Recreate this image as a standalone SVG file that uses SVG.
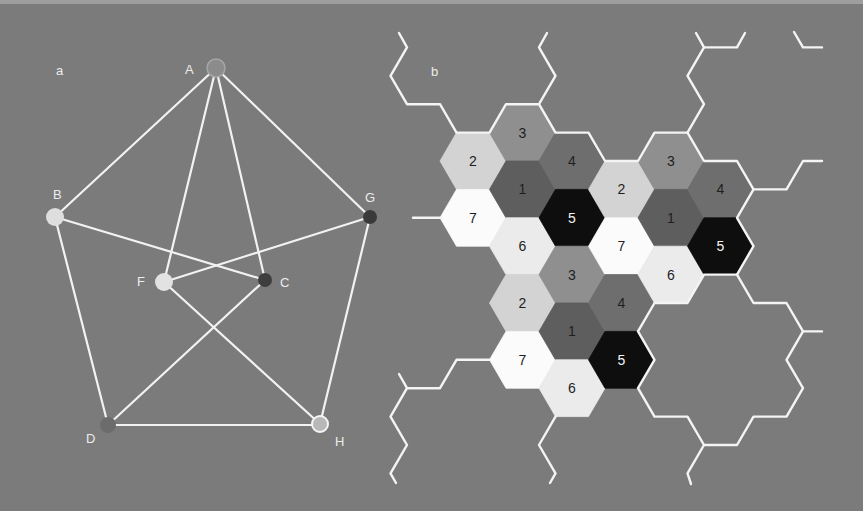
<svg xmlns="http://www.w3.org/2000/svg" xmlns:xlink="http://www.w3.org/1999/xlink" width="863" height="511" viewBox="0 0 863 511">
<defs>
<polygon id="hx" points="-33,0 -16.5,-28.4 16.5,-28.4 33,0 16.5,28.4 -16.5,28.4"/>
<style>
.edge{stroke:#f2f2f2;stroke-width:2.2;fill:none;stroke-linecap:round}
.wl{stroke:#f4f4f4;stroke-width:2.4;fill:none;stroke-linejoin:round;stroke-linecap:round}
.lbl{font-family:"Liberation Sans",Arial,sans-serif;font-size:13px;fill:#ececec}
.num{font-family:"Liberation Sans",Arial,sans-serif;font-size:14px;text-anchor:middle;fill:#1e1e1e}
.num.w{fill:#f4f4f4}
.h1{fill:#5e5e5e;stroke:#5e5e5e;stroke-width:0.8}
.h2{fill:#d3d3d3;stroke:#d3d3d3;stroke-width:0.8}
.h3{fill:#8f8f8f;stroke:#8f8f8f;stroke-width:0.8}
.h4{fill:#6e6e6e;stroke:#6e6e6e;stroke-width:0.8}
.h5{fill:#0e0e0e;stroke:#0e0e0e;stroke-width:0.8}
.h6{fill:#ebebeb;stroke:#ebebeb;stroke-width:0.8}
.h7{fill:#fbfbfb;stroke:#fbfbfb;stroke-width:0.8}
</style>
</defs>
<rect x="0" y="0" width="863" height="511" fill="#7b7b7b"/>
<rect x="0" y="0" width="863" height="4" fill="#9e9e9e"/>

<!-- panel a: graph -->
<text class="lbl" x="56" y="75">a</text>
<g id="edges">
<line class="edge" x1="216" y1="68" x2="55" y2="217"/>
<line class="edge" x1="216" y1="68" x2="370" y2="217"/>
<line class="edge" x1="216" y1="68" x2="164" y2="282"/>
<line class="edge" x1="216" y1="68" x2="265" y2="280"/>
<line class="edge" x1="55" y1="217" x2="265" y2="280"/>
<line class="edge" x1="370" y1="217" x2="164" y2="282"/>
<line class="edge" x1="55" y1="217" x2="108" y2="425"/>
<line class="edge" x1="370" y1="217" x2="320" y2="424"/>
<line class="edge" x1="265" y1="280" x2="108" y2="425"/>
<line class="edge" x1="164" y1="282" x2="320" y2="424"/>
<line class="edge" x1="108" y1="425" x2="320" y2="425"/>
</g>
<g id="nodeA"><circle cx="216" cy="68" r="9" fill="#8c8c8c" stroke="#a6a6a6" stroke-width="1.5"/><text class="lbl" x="185" y="74">A</text></g>
<g id="nodeB"><circle cx="55" cy="217" r="9" fill="#dedede"/><text class="lbl" x="53" y="199">B</text></g>
<g id="nodeG"><circle cx="370" cy="217" r="7" fill="#3a3a3a"/><text class="lbl" x="365" y="202">G</text></g>
<g id="nodeF"><circle cx="164" cy="282" r="9" fill="#e2e2e2"/><text class="lbl" x="137" y="286">F</text></g>
<g id="nodeC"><circle cx="265" cy="280" r="7" fill="#3e3e3e"/><text class="lbl" x="280" y="287">C</text></g>
<g id="nodeD"><circle cx="108" cy="425" r="8" fill="#6c6c6c"/><text class="lbl" x="86" y="443">D</text></g>
<g id="nodeH"><circle cx="320" cy="424" r="8" fill="#b8b8b8" stroke="#f5f5f5" stroke-width="2"/><text class="lbl" x="335" y="446">H</text></g>

<!-- panel b: hexagons -->
<text class="lbl" x="431" y="76">b</text>
<g id="hexes">
<g id="hex-0-1"><use xlink:href="#hx" href="#hx" x="473" y="161" class="h2"/><text class="num" x="473" y="166">2</text></g>
<g id="hex-0-3"><use xlink:href="#hx" href="#hx" x="473" y="217.8" class="h7"/><text class="num" x="473" y="222.8">7</text></g>
<g id="hex-1-0"><use xlink:href="#hx" href="#hx" x="522.5" y="132.6" class="h3"/><text class="num" x="522.5" y="137.6">3</text></g>
<g id="hex-1-2"><use xlink:href="#hx" href="#hx" x="522.5" y="189.4" class="h1"/><text class="num" x="522.5" y="194.4">1</text></g>
<g id="hex-1-4"><use xlink:href="#hx" href="#hx" x="522.5" y="246.2" class="h6"/><text class="num" x="522.5" y="251.2">6</text></g>
<g id="hex-1-6"><use xlink:href="#hx" href="#hx" x="522.5" y="303" class="h2"/><text class="num" x="522.5" y="308">2</text></g>
<g id="hex-1-8"><use xlink:href="#hx" href="#hx" x="522.5" y="359.8" class="h7"/><text class="num" x="522.5" y="364.8">7</text></g>
<g id="hex-2-1"><use xlink:href="#hx" href="#hx" x="572" y="161" class="h4"/><text class="num" x="572" y="166">4</text></g>
<g id="hex-2-3"><use xlink:href="#hx" href="#hx" x="572" y="217.8" class="h5"/><text class="num w" x="572" y="222.8">5</text></g>
<g id="hex-2-5"><use xlink:href="#hx" href="#hx" x="572" y="274.6" class="h3"/><text class="num" x="572" y="279.6">3</text></g>
<g id="hex-2-7"><use xlink:href="#hx" href="#hx" x="572" y="331.4" class="h1"/><text class="num" x="572" y="336.4">1</text></g>
<g id="hex-2-9"><use xlink:href="#hx" href="#hx" x="572" y="388.2" class="h6"/><text class="num" x="572" y="393.2">6</text></g>
<g id="hex-3-2"><use xlink:href="#hx" href="#hx" x="621.5" y="189.4" class="h2"/><text class="num" x="621.5" y="194.4">2</text></g>
<g id="hex-3-4"><use xlink:href="#hx" href="#hx" x="621.5" y="246.2" class="h7"/><text class="num" x="621.5" y="251.2">7</text></g>
<g id="hex-3-6"><use xlink:href="#hx" href="#hx" x="621.5" y="303" class="h4"/><text class="num" x="621.5" y="308">4</text></g>
<g id="hex-3-8"><use xlink:href="#hx" href="#hx" x="621.5" y="359.8" class="h5"/><text class="num w" x="621.5" y="364.8">5</text></g>
<g id="hex-4-1"><use xlink:href="#hx" href="#hx" x="671" y="161" class="h3"/><text class="num" x="671" y="166">3</text></g>
<g id="hex-4-3"><use xlink:href="#hx" href="#hx" x="671" y="217.8" class="h1"/><text class="num" x="671" y="222.8">1</text></g>
<g id="hex-4-5"><use xlink:href="#hx" href="#hx" x="671" y="274.6" class="h6"/><text class="num" x="671" y="279.6">6</text></g>
<g id="hex-5-2"><use xlink:href="#hx" href="#hx" x="720.5" y="189.4" class="h4"/><text class="num" x="720.5" y="194.4">4</text></g>
<g id="hex-5-4"><use xlink:href="#hx" href="#hx" x="720.5" y="246.2" class="h5"/><text class="num w" x="720.5" y="251.2">5</text></g>
</g>
<g id="boundaries">
<polyline class="wl" points="399,33 407,47.4 390.5,75.8 407,104.2 440,104.2 456.5,132.6 489.5,132.6 506,104.2 539,104.2 555.5,75.8 539,47.4 547,33"/>
<polyline class="wl" points="539,104.2 555.5,132.6 588.5,132.6 605,161 638,161 654.5,132.6 687.5,132.6 704,104.2 687.5,75.8 704,47.4 696,33"/>
<polyline class="wl" points="704,47.4 737,47.4 745,33"/>
<polyline class="wl" points="794,32 803,47.4 822,47.4"/>
<polyline class="wl" points="687.5,132.6 704,161 737,161 753.5,189.4 786.5,189.4 803,161 822,161"/>
<polyline class="wl" points="753.5,189.4 737,217.8 753.5,246.2 737,274.6 704,274.6 687.5,303 654.5,303 638,331.4 654.5,359.8 638,388.2 654.5,416.6 687.5,416.6 704,445 737,445 753.5,416.6 786.5,416.6 803,388.2 786.5,359.8 803,331.4 822,331.4"/>
<polyline class="wl" points="737,274.6 753.5,303 786.5,303 803,331.4"/>
<polyline class="wl" points="704,445 687.5,473.4 691,484"/>
<polyline class="wl" points="413,217.8 440,217.8"/>
<polyline class="wl" points="489.5,359.8 456.5,359.8 440,388.2 407,388.2 399,374"/>
<polyline class="wl" points="407,388.2 390.5,416.6 407,445 390.5,473.4 396,483"/>
<polyline class="wl" points="555.5,416.6 539,445 555.5,473.4 550,483"/>
</g>
</svg>
